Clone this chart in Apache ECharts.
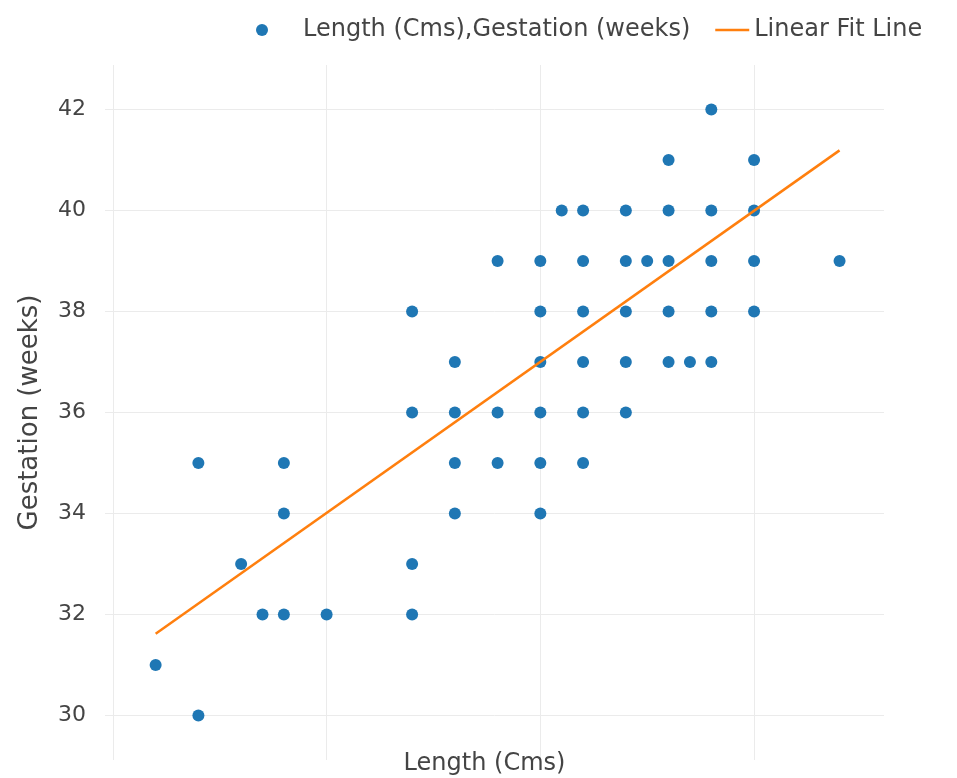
<!DOCTYPE html>
<html>
<head>
<meta charset="utf-8">
<script src="https://cdn.jsdelivr.net/npm/echarts@6/dist/echarts.min.js"></script>
<style>
html,body{margin:0;padding:0;background:#fff;}
#chart{width:957px;height:778px;}
</style>
</head>
<body>
<div id="chart"></div>
<script>
// Data
const lengthCm = [
  58,
  56, 60,
  51, 52, 54, 56, 58, 60,
  48, 50, 52, 54, 55, 56, 58, 60, 64,
  44, 50, 52, 54, 56, 58, 60,
  46, 50, 52, 54, 56, 57, 58,
  44, 46, 48, 50, 52, 54,
  34, 38, 46, 48, 50, 52,
  38, 46, 50,
  36, 44,
  37, 38, 40, 44,
  32,
  34
];
const gestationWeeks = [
  42,
  41, 41,
  40, 40, 40, 40, 40, 40,
  39, 39, 39, 39, 39, 39, 39, 39, 39,
  38, 38, 38, 38, 38, 38, 38,
  37, 37, 37, 37, 37, 37, 37,
  36, 36, 36, 36, 36, 36,
  35, 35, 35, 35, 35, 35,
  34, 34, 34,
  33, 33,
  32, 32, 32, 32,
  31,
  30
];
const fitLength = [32, 64];
const fitGestation = [31.62, 41.19];
const yTickValues = [30, 32, 34, 36, 38, 40, 42];
const xGridValues = [30, 40, 50, 60];

const scatterName = 'Length (Cms),Gestation (weeks)';
const fitName = 'Linear Fit Line';

const scatterData = lengthCm.map((x, i) => [x, gestationWeeks[i]]);
const fitData = fitLength.map((x, i) => [x, fitGestation[i]]);

const FONT = 'DejaVu Sans';
const chart = echarts.init(document.getElementById('chart'), null, {renderer: 'canvas'});
chart.setOption({
  animation: false,
  backgroundColor: '#ffffff',
  textStyle: {fontFamily: FONT},
  legend: [
    {
      data: [scatterName],
      left: 251, top: 12,
      itemWidth: 72, itemHeight: 12,
      textStyle: {fontFamily: FONT, fontSize: 24, color: '#444', lineHeight: 26}
    },
    {
      data: [fitName],
      left: 709, top: 12,
      itemWidth: 34, itemHeight: 12,
      itemStyle: {color: 'rgba(0,0,0,0)', opacity: 0, borderWidth: 0},
      lineStyle: {color: '#ff7f0e', width: 2.5, opacity: 1},
      textStyle: {fontFamily: FONT, fontSize: 24, color: '#444', lineHeight: 26}
    }
  ],
  grid: {left: 105, right: 73, top: 65, bottom: 18, containLabel: false, outerBoundsMode: 'none'},
  xAxis: {
    type: 'value',
    min: 29.63, max: 66.08,
    name: 'Length (Cms)',
    nameLocation: 'middle',
    nameGap: -8,
    nameTextStyle: {fontFamily: FONT, fontSize: 24, color: '#444', padding: [0, 20, 0, 0]},
    axisLine: {show: false},
    axisTick: {show: false, customValues: xGridValues},
    axisLabel: {show: false, customValues: xGridValues},
    splitLine: {show: true, lineStyle: {color: '#ebebeb', width: 1}}
  },
  yAxis: {
    type: 'value',
    min: 29.12, max: 42.88,
    name: 'Gestation (weeks)',
    nameLocation: 'middle',
    nameRotate: 90,
    nameGap: 62,
    nameTextStyle: {fontFamily: FONT, fontSize: 26, color: '#444'},
    axisLine: {show: false},
    axisTick: {show: false, customValues: yTickValues},
    axisLabel: {customValues: yTickValues, margin: 19, fontFamily: FONT, fontSize: 22, color: '#444'},
    splitLine: {show: true, lineStyle: {color: '#ebebeb', width: 1}}
  },
  series: [
    {
      name: scatterName,
      type: 'scatter',
      data: scatterData,
      symbol: 'circle',
      symbolSize: 12,
      itemStyle: {color: '#1f77b4', opacity: 1},
      z: 2
    },
    {
      name: fitName,
      type: 'line',
      data: fitData,
      symbol: 'none',
      lineStyle: {color: '#ff7f0e', width: 2.5},
      itemStyle: {color: '#ff7f0e'},
      z: 3
    }
  ]
});
</script>
</body>
</html>
